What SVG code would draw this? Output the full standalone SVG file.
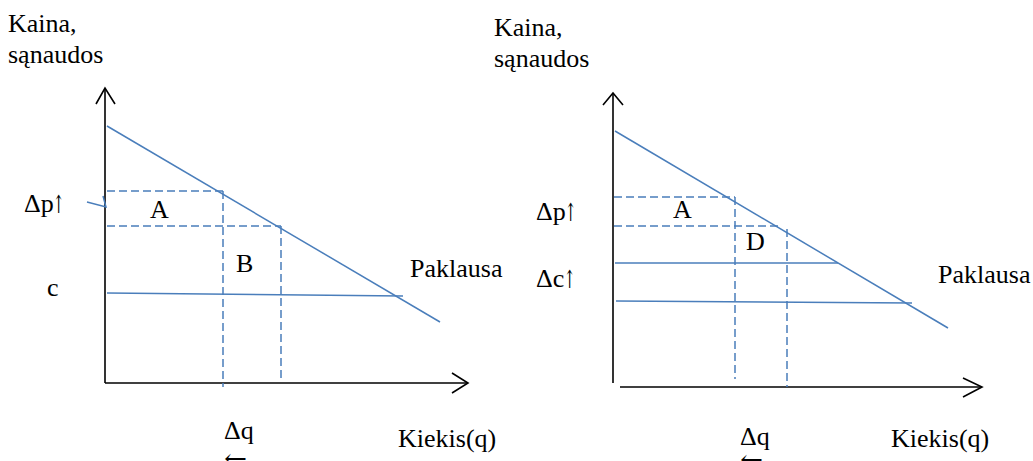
<svg xmlns="http://www.w3.org/2000/svg" width="1033" height="461" viewBox="0 0 1033 461">
<style>
text{font-family:"Liberation Serif","Times New Roman",serif;font-size:26px;fill:#000}
text.ar{font-family:"DejaVu Serif","DejaVu Sans",serif;font-size:25px}
.ax{stroke:#000;stroke-width:1.6;fill:none}
.ln{stroke:#4a7ebb;stroke-width:1.5;fill:none}
.dl{stroke:#4a7ebb;stroke-width:1.5;fill:none;stroke-dasharray:8 4}
</style>
<rect width="1033" height="461" fill="#fff"/>
<g id="left-chart">
<g id="left-axes">
<line class="ax" x1="105" y1="88" x2="105" y2="383"/>
<polyline class="ax" points="96,104 105,88 115,104"/>
<line class="ax" x1="105" y1="383" x2="468" y2="383"/>
<polyline class="ax" points="452,373 468,383 452,393"/>
</g>
<g id="left-lines">
<line class="ln" x1="107" y1="126" x2="440" y2="322"/>
<line class="ln" x1="107" y1="293" x2="403" y2="296"/>
<line class="dl" x1="107" y1="191" x2="227" y2="191"/>
<line class="dl" x1="107" y1="226" x2="281" y2="226"/>
<line class="dl" x1="223" y1="191" x2="223" y2="387"/>
<line class="dl" x1="281" y1="226" x2="281" y2="382"/>
<polyline class="ln" points="87,202 106,207 103,196"/>
</g>
<g id="left-labels">
<text x="8" y="32">Kaina,</text>
<text x="8" y="63">sąnaudos</text>
<text x="24" y="212">Δp</text>
<text class="ar" transform="translate(53,213) scale(0.55,1)">↑</text>
<text x="150" y="218">A</text>
<text x="236" y="272">B</text>
<text x="47" y="296">c</text>
<text x="410" y="277">Paklausa</text>
<text x="224" y="439">Δq</text>
<text class="ar" transform="translate(224,467) scale(1.1,1)">←</text>
<text x="398" y="447">Kiekis(q)</text>
</g>
</g>
<g id="right-chart">
<g id="right-axes">
<line class="ax" x1="613" y1="93" x2="613" y2="383"/>
<polyline class="ax" points="603,105 613,93 623,105"/>
<line class="ax" x1="620" y1="387" x2="982" y2="387"/>
<polyline class="ax" points="963,378 982,387 963,397"/>
</g>
<g id="right-lines">
<line class="ln" x1="615" y1="131" x2="948" y2="328"/>
<line class="ln" x1="615" y1="263" x2="838" y2="263"/>
<line class="ln" x1="616" y1="301" x2="912" y2="303"/>
<line class="dl" x1="614" y1="197" x2="735" y2="197"/>
<line class="dl" x1="614" y1="226" x2="782" y2="226"/>
<line class="dl" x1="735" y1="197" x2="735" y2="379"/>
<line class="dl" x1="787" y1="229" x2="787" y2="387"/>
</g>
<g id="right-labels">
<text x="494" y="36">Kaina,</text>
<text x="494" y="67">sąnaudos</text>
<text x="536" y="220">Δp</text>
<text class="ar" transform="translate(565,221) scale(0.55,1)">↑</text>
<text x="673" y="218">A</text>
<text x="746" y="250">D</text>
<text x="536" y="287">Δc</text>
<text class="ar" transform="translate(564,288) scale(0.55,1)">↑</text>
<text x="938" y="283">Paklausa</text>
<text x="740" y="445">Δq</text>
<text class="ar" transform="translate(740,468) scale(1.1,1)">←</text>
<text x="891" y="447">Kiekis(q)</text>
</g>
</g>
</svg>
